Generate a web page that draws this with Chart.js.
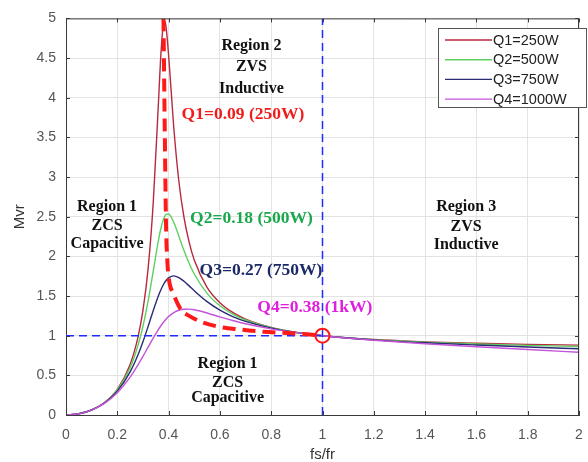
<!DOCTYPE html>
<html>
<head>
<meta charset="utf-8">
<script src="https://cdn.jsdelivr.net/npm/chart.js@4.4.1/dist/chart.umd.min.js"></script>
<style>
html, body { margin: 0; padding: 0; background: #fff; }
</style>
</head>
<body>
<canvas id="myChart" width="588" height="462"></canvas>
<script>
// normalized switching frequency fs/fr
var fsfr = [0, 0.05, 0.1, 0.15, 0.2, 0.25, 0.28, 0.3, 0.32, 0.34, 0.36, 0.37, 0.38, 0.385, 0.39, 0.4,
    0.42, 0.44, 0.46, 0.48, 0.5, 0.55, 0.6, 0.65, 0.7, 0.8, 0.9, 1, 1.2, 1.4, 1.6, 1.8, 2];

// voltage gain Mvr for each load
var mvrQ1 = [0, 0.015, 0.064, 0.157, 0.324, 0.637, 0.972, 1.318, 1.842, 2.671, 3.91, 4.55, 4.935, 4.968, 4.897, 4.538,
    3.631, 2.947, 2.491, 2.179, 1.955, 1.61, 1.416, 1.293, 1.209, 1.104, 1.041, 1, 0.951, 0.922, 0.904, 0.891, 0.881];
var mvrQ2 = [0, 0.015, 0.063, 0.155, 0.315, 0.597, 0.87, 1.119, 1.435, 1.812, 2.195, 2.354, 2.467, 2.504, 2.528, 2.534,
    2.43, 2.255, 2.073, 1.913, 1.778, 1.534, 1.378, 1.273, 1.198, 1.101, 1.04, 1, 0.949, 0.918, 0.895, 0.878, 0.863];
var mvrQ3 = [0, 0.015, 0.063, 0.152, 0.301, 0.544, 0.754, 0.924, 1.115, 1.315, 1.5, 1.579, 1.645, 1.672, 1.695, 1.729,
    1.754, 1.733, 1.686, 1.628, 1.567, 1.429, 1.322, 1.241, 1.18, 1.095, 1.039, 1, 0.947, 0.91, 0.882, 0.858, 0.835];
var mvrQ4 = [0, 0.015, 0.062, 0.147, 0.281, 0.478, 0.628, 0.739, 0.855, 0.97, 1.077, 1.125, 1.169, 1.189, 1.207, 1.241,
    1.291, 1.321, 1.334, 1.335, 1.327, 1.286, 1.237, 1.191, 1.15, 1.086, 1.038, 1, 0.943, 0.898, 0.86, 0.825, 0.792];

var seriesLabels = ['Q1=250W', 'Q2=500W', 'Q3=750W', 'Q4=1000W'];

// peak gain locus (red dashed)
var peakX = [0.38, 0.385, 0.39, 0.395, 0.4, 0.42, 0.45, 0.48, 0.53, 0.6, 0.67, 0.77, 0.88, 0.97];
var peakY = [5, 3.6, 2.4, 1.95, 1.74, 1.52, 1.32, 1.25, 1.17, 1.11, 1.08, 1.05, 1.03, 1.01];

// resonant point and unity gain guides
var resonantFreq = 1;
var unityGain = 1;

var xTicks = [0, 0.2, 0.4, 0.6, 0.8, 1, 1.2, 1.4, 1.6, 1.8, 2];
var yTicks = [0, 0.5, 1, 1.5, 2, 2.5, 3, 3.5, 4, 4.5, 5];

var lineColors = ['#b8283e', '#5fd060', '#2b2b76', '#c353d8'];

var notes = [
    { text: 'Region 2', x: 0.723, y: 4.65, color: '#111', size: 16 },
    { text: 'ZVS', x: 0.723, y: 4.39, color: '#111', size: 16 },
    { text: 'Inductive', x: 0.723, y: 4.11, color: '#111', size: 16 },
    { text: 'Region 1', x: 0.16, y: 2.625, color: '#111', size: 16 },
    { text: 'ZCS', x: 0.16, y: 2.39, color: '#111', size: 16 },
    { text: 'Capacitive', x: 0.16, y: 2.16, color: '#111', size: 16 },
    { text: 'Region 1', x: 0.63, y: 0.64, color: '#111', size: 16 },
    { text: 'ZCS', x: 0.63, y: 0.40, color: '#111', size: 16 },
    { text: 'Capacitive', x: 0.63, y: 0.21, color: '#111', size: 16 },
    { text: 'Region 3', x: 1.56, y: 2.625, color: '#111', size: 16 },
    { text: 'ZVS', x: 1.56, y: 2.375, color: '#111', size: 16 },
    { text: 'Inductive', x: 1.56, y: 2.15, color: '#111', size: 16 },
    { text: 'Q1=0.09 (250W)', x: 0.69, y: 3.79, color: '#f01c1c', size: 17.5 },
    { text: 'Q2=0.18 (500W)', x: 0.723, y: 2.475, color: '#1aa84c', size: 17.5 },
    { text: 'Q3=0.27 (750W)', x: 0.76, y: 1.825, color: '#1b2a66', size: 17.5 },
    { text: 'Q4=0.38 (1kW)', x: 0.746, y: 1.35, color: '#e01ee0', size: 17.5, align: 'left' }
];

function toPoints(xs, ys) {
    return xs.map(function (x, i) { return { x: x, y: ys[i] }; });
}

function curve(label, ys, color, order) {
    return {
        label: label,
        data: toPoints(fsfr, ys),
        borderColor: color,
        backgroundColor: color,
        borderWidth: 1.4,
        pointRadius: 0,
        cubicInterpolationMode: 'monotone',
        order: order,
        isSeries: true
    };
}

var fmt = function (v) { return String(+(+v).toFixed(1)); };

// text labels inside the plot
var notesPlugin = {
    id: 'notes',
    afterDatasetsDraw: function (chart) {
        var c = chart.ctx, xs = chart.scales.x, ys = chart.scales.y;
        c.save();
        c.textBaseline = 'middle';
        notes.forEach(function (n) {
            c.font = 'bold ' + n.size + 'px "Liberation Serif", "Times New Roman", serif';
            c.fillStyle = n.color;
            c.textAlign = n.align || 'center';
            c.fillText(n.text, xs.getPixelForValue(n.x), ys.getPixelForValue(n.y));
        });
        c.restore();
    }
};

// axes box with inward ticks, and boxed legend
var boxPlugin = {
    id: 'box',
    afterDraw: function (chart) {
        var c = chart.ctx, a = chart.chartArea, xs = chart.scales.x, ys = chart.scales.y;
        c.save();
        c.strokeStyle = '#3a3a3a';
        c.lineWidth = 1;
        c.beginPath();
        c.moveTo(a.left, a.top + 0.5);
        c.lineTo(a.right, a.top + 0.5);
        c.moveTo(a.right - 0.5, a.top);
        c.lineTo(a.right - 0.5, a.bottom);
        xTicks.forEach(function (t) {
            var px = Math.round(xs.getPixelForValue(t)) + 0.5;
            c.moveTo(px, a.top); c.lineTo(px, a.top + 4);
            c.moveTo(px, a.bottom); c.lineTo(px, a.bottom - 4);
        });
        yTicks.forEach(function (t) {
            var py = Math.round(ys.getPixelForValue(t)) + 0.5;
            c.moveTo(a.left, py); c.lineTo(a.left + 4, py);
            c.moveTo(a.right, py); c.lineTo(a.right - 4, py);
        });
        c.stroke();

        // legend
        var lx = 438.5, ly = 28.5, lw = 148, lh = 79;
        c.fillStyle = '#fff';
        c.fillRect(lx, ly, lw, lh);
        c.strokeStyle = '#555';
        c.strokeRect(lx, ly, lw, lh);
        c.font = '14.5px "Liberation Sans", Arial, sans-serif';
        c.textAlign = 'left';
        c.textBaseline = 'middle';
        var series = chart.data.datasets.filter(function (d) { return d.isSeries; });
        series.forEach(function (d, i) {
            var y = 40 + i * 19.7;
            c.strokeStyle = d.borderColor;
            c.lineWidth = 1.4;
            c.beginPath();
            c.moveTo(445, y); c.lineTo(492, y);
            c.stroke();
            c.fillStyle = '#222';
            c.fillText(d.label, 493, y + 0.5);
        });
        c.restore();
    }
};

var chart = new Chart(document.getElementById('myChart').getContext('2d'), {
    type: 'line',
    data: {
        datasets: [
            curve(seriesLabels[0], mvrQ1, lineColors[0], 5),
            curve(seriesLabels[1], mvrQ2, lineColors[1], 4),
            curve(seriesLabels[2], mvrQ3, lineColors[2], 3),
            curve(seriesLabels[3], mvrQ4, lineColors[3], 2),
            {
                label: 'unity',
                data: [{ x: 0, y: unityGain }, { x: resonantFreq, y: unityGain }],
                borderColor: '#1f2bff',
                borderWidth: 1.5,
                borderDash: [8, 5],
                pointRadius: 0,
                order: 1
            },
            {
                label: 'resonance',
                data: [{ x: resonantFreq, y: 0 }, { x: resonantFreq, y: 5 }],
                borderColor: '#1f2bff',
                borderWidth: 1.5,
                borderDash: [8, 5],
                pointRadius: 0,
                order: 1
            },
            {
                label: 'peak locus',
                data: toPoints(peakX, peakY),
                borderColor: '#ff1a1a',
                borderWidth: 4,
                borderDash: [13, 7],
                pointRadius: 0,
                cubicInterpolationMode: 'monotone',
                order: 0
            },
            {
                label: 'fr',
                data: [{ x: resonantFreq, y: unityGain }],
                showLine: false,
                pointRadius: 7,
                pointBorderWidth: 2,
                pointBorderColor: '#ff1a1a',
                pointBackgroundColor: 'rgba(0,0,0,0)',
                order: 0
            }
        ]
    },
    options: {
        responsive: false,
        animation: false,
        devicePixelRatio: 1,
        layout: { padding: { top: 15, right: 2, left: 0, bottom: 0 } },
        plugins: { legend: { display: false }, tooltip: { enabled: false } },
        scales: {
            x: {
                type: 'linear',
                min: 0,
                max: 2,
                afterBuildTicks: function (s) { s.ticks = xTicks.map(function (v) { return { value: v }; }); },
                afterFit: function (s) { s.height = 47; s.paddingLeft = 0; s.paddingRight = 0; },
                grid: { color: '#e3e3e3', drawTicks: false },
                border: { color: '#3a3a3a' },
                ticks: {
                    padding: 12,
                    color: '#555',
                    font: { family: '"Liberation Sans", Arial, sans-serif', size: 14 },
                    maxRotation: 0,
                    autoSkip: false,
                    callback: fmt
                },
                title: {
                    display: true,
                    text: 'fs/fr',
                    color: '#333',
                    padding: { top: 0, bottom: 0 },
                    font: { family: '"Liberation Sans", Arial, sans-serif', size: 15, lineHeight: 1 }
                }
            },
            y: {
                min: 0,
                max: 5,
                afterBuildTicks: function (s) { s.ticks = yTicks.map(function (v) { return { value: v }; }); },
                afterFit: function (s) { s.width = 66; },
                grid: { color: '#e3e3e3', drawTicks: false },
                border: { color: '#3a3a3a' },
                ticks: {
                    padding: 10,
                    color: '#555',
                    font: { family: '"Liberation Sans", Arial, sans-serif', size: 14 },
                    autoSkip: false,
                    callback: fmt
                },
                title: {
                    display: true,
                    text: 'Mvr',
                    color: '#333',
                    padding: { top: 12, bottom: 0 },
                    font: { family: '"Liberation Sans", Arial, sans-serif', size: 15, lineHeight: 1 }
                }
            }
        }
    },
    plugins: [notesPlugin, boxPlugin]
});
</script>
</body>
</html>
